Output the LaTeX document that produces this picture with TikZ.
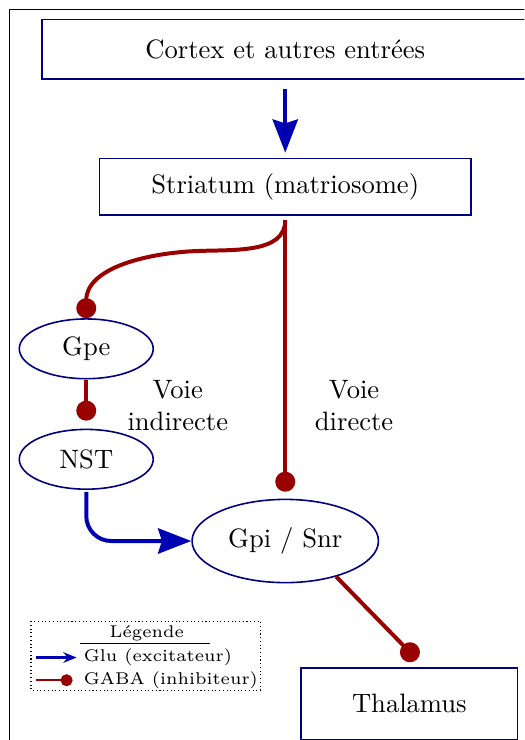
\documentclass[tikz,border=0pt]{standalone}
\usepackage{tikz}
\usetikzlibrary{arrows.meta,shapes.geometric,calc}
\definecolor{glu}{HTML}{0000B3}
\definecolor{gaba}{HTML}{990000}
\definecolor{cadre}{HTML}{000080}

\begin{document}
\begin{tikzpicture}[
  boite/.style={draw=cadre,semithick,rectangle,align=center},
  noyau/.style={draw=cadre,semithick,ellipse,minimum width=1.77cm,minimum height=0.79cm},
  excit/.style={glu,line width=1.5pt,-{Stealth[length=12.5pt,width=9.5pt,inset=1.5pt]}},
  inhib/.style={gaba,line width=1.5pt,-{Circle[length=7.5pt]}},
  legende/.style={font=\fontsize{6.4}{8}\selectfont,inner sep=0pt}]
\clip (0,0) rectangle (6.93,-9.78);
\draw (0.13,-0.13) rectangle (7.5,-10.5);
% structures
\node[boite,minimum width=6.43cm,minimum height=0.79cm] (cortex) at (3.77,-0.65) {Cortex et autres entrées};
\node[boite,minimum width=4.91cm,minimum height=0.75cm] (striatum) at (3.77,-2.47) {Striatum (matriosome)};
\node[noyau] (gpe) at (1.14,-4.61) {Gpe};
\node[noyau] (nst) at (1.14,-6.07) {NST};
\node[noyau,minimum width=2.36cm,minimum height=1.10cm] (gpi) at (3.77,-7.15) {Gpi / Snr};
\node[boite,minimum width=2.86cm,minimum height=0.95cm] (thalamus) at (5.41,-9.3) {Thalamus};
\node[align=center] (indirecte) at (2.35,-5.36) {Voie\\indirecte};
\node[align=center] (directe) at (4.68,-5.36) {Voie\\directe};
\coordinate (coude) at (2.55,-3.32);
\coordinate (entree) at ($(thalamus.north)+(0.1,0.1)$);
% voies
\draw[excit,shorten <=3.4pt,shorten >=1.9pt] (cortex) -- (striatum);
\draw[inhib,shorten <=1.5pt] (striatum.south) to[out=-90,in=3] (coude) to[out=183,in=90] (gpe.north);
\draw[inhib,shorten <=1.5pt,shorten >=2.6pt] (striatum.south) -- (gpi.north);
\draw[inhib,shorten >=3pt] (gpe) -- (nst);
\draw[excit,rounded corners=0.33cm,shorten <=0.7pt] (nst.south) |- (gpi.west);
\draw[inhib] (gpi.-35) -- (entree);
% legende
\draw[densely dotted] (0.41,-8.21) rectangle (3.44,-9.12);
\node[legende] (titre) at (1.94,-8.37) {Légende};
\draw[thin] (1.06,-8.5) -- (2.78,-8.5);
\node[legende,anchor=west] (lglu) at (1.10,-8.69) {Glu (excitateur)};
\node[legende,anchor=west] (lgaba) at (1.10,-8.99) {GABA (inhibiteur)};
\coordinate (sglu) at (0.47,-8.69);
\coordinate (sgaba) at (0.47,-8.99);
\draw[glu,line width=0.8pt,-{Stealth[length=5pt,width=4pt]},shorten >=2.5pt] (sglu) -- (lglu.west);
\draw[gaba,line width=0.8pt,-{Circle[length=4.5pt]},shorten >=4pt] (sgaba) -- (lgaba.west);
\end{tikzpicture}
\end{document}
